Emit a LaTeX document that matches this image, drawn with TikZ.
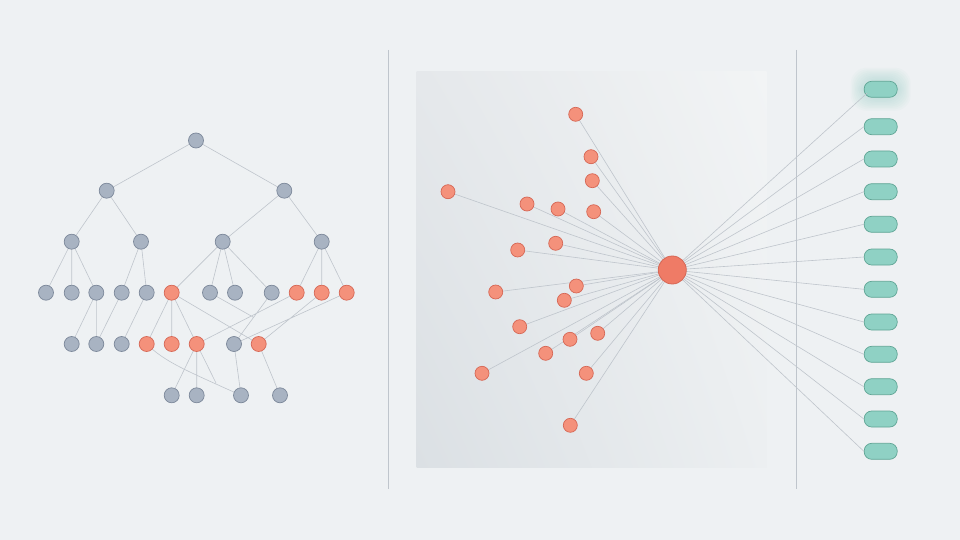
\documentclass[tikz,border=0pt]{standalone}
\usepackage{tikz}
\usetikzlibrary{calc,shadings}

\definecolor{fondo}{HTML}{EEF1F3}
\definecolor{gris}{HTML}{A8B3C2}
\definecolor{grisborde}{HTML}{7C889A}
\definecolor{naranja}{HTML}{F4917B}
\definecolor{naranjaborde}{HTML}{D66755}
\definecolor{centro}{HTML}{EF7B66}
\definecolor{verde}{HTML}{8FD1C4}
\definecolor{verdeborde}{HTML}{5FA595}
\definecolor{linea}{HTML}{BFC5CC}
\definecolor{panelA}{HTML}{DBE0E4}
\definecolor{panelB}{HTML}{E5E8EB}
\definecolor{panelC}{HTML}{ECEFF1}
\definecolor{panelD}{HTML}{F2F4F5}

\tikzset{
  gnodo/.style={circle, fill=gris, draw=grisborde, line width=.7pt, minimum size=15pt, inner sep=0pt},
  onodo/.style={circle, fill=naranja, draw=naranjaborde, line width=.7pt, minimum size=15pt, inner sep=0pt},
  fnodo/.style={circle, fill=naranja, draw=naranjaborde, line width=.7pt, minimum size=14pt, inner sep=0pt},
  pastilla/.style={rectangle, rounded corners=7.5pt, fill=verde, draw=verdeborde, line width=.7pt,
                   minimum width=33pt, minimum height=16pt, inner sep=0pt},
  arista/.style={draw=linea, line width=.6pt},
}

\begin{document}
\begin{tikzpicture}[x=1pt,y=-1pt]
\useasboundingbox (0,0) rectangle (960,540);

%%%%%%%%%%%%%%%%%%%%%%%%%%%%%%%%%%%%%%%%%%%%%%%%	FONDO
\fill[fondo] (0,0) rectangle (960,540);
\shade[lower left=panelA,		%%%%	Esquina oscura abajo
       upper left=panelB,
       lower right=panelC,
       upper right=panelD]		%%%%	Esquina clara arriba
 (416.7,71.7) rectangle (766.7,467.3);

%%%%%%%%%%%%%%%%%%%%%%%%%%%%%%%%%%%%%%%%%%%%%%%%	DIVISORES
\draw[linea, line width=.8pt] (388,50) -- (388,489);
\draw[linea, line width=.8pt] (796,50) -- (796,489);

%%%%%%%%%%%%%%%%%%%%%%%%%%%%%%%%%%%%%%%%%%%%%%%%	ARBOL (aristas primero, nodos encima)
\coordinate (r) at (196,140.5);
\coordinate (a) at (106.7,190.7);
\coordinate (b) at (284.3,190.7);
\coordinate (aa) at (71.7,241.7);
\coordinate (ab) at (141,241.7);
\coordinate (ba) at (222.7,241.7);
\coordinate (bb) at (321.7,241.7);
\coordinate (c1) at (46,292.7);
\coordinate (c2) at (71.7,292.7);
\coordinate (c3) at (96.3,292.7);
\coordinate (c4) at (121.7,292.7);
\coordinate (c5) at (146.7,292.7);
\coordinate (c6) at (171.7,292.7);
\coordinate (c7) at (210,292.7);
\coordinate (c8) at (235,292.7);
\coordinate (c9) at (271.7,292.7);
\coordinate (c10) at (296.7,292.7);
\coordinate (c11) at (321.7,292.7);
\coordinate (c12) at (346.7,292.7);
\coordinate (d1) at (71.7,344);
\coordinate (d2) at (96.3,344);
\coordinate (d3) at (121.7,344);
\coordinate (d4) at (146.7,344);
\coordinate (d5) at (171.7,344);
\coordinate (d6) at (196.7,344);
\coordinate (d7) at (234,344);
\coordinate (d8) at (258.7,344);
\coordinate (e1) at (171.7,395.3);
\coordinate (e2) at (196.7,395.3);
\coordinate (e3) at (241,395.3);
\coordinate (e4) at (280,395.3);
\coordinate (x1) at (253,317);		%%%%	Puntas sueltas
\coordinate (x2) at (216,383);

\draw[arista] (r) -- (a) (r) -- (b)
 (a) -- (aa) (a) -- (ab) (b) -- (ba) (b) -- (bb)
 (aa) -- (c1) (aa) -- (c2) (aa) -- (c3) (ab) -- (c4) (ab) -- (c5)
 (ba) -- (c6) (ba) -- (c7) (ba) -- (c8) (ba) -- (c9)
 (bb) -- (c10) (bb) -- (c11) (bb) -- (c12);
\draw[arista] (c3) -- (d1) (c3) -- (d2) (c4) -- (d2) (c5) -- (d3)
 (c6) -- (d4) (c6) -- (d5) (c6) -- (d6) (c6) -- (d8)
 (c7) -- (x1) (c9) -- (d7) (c10) -- (d6) (c11) -- (d8) (c12) -- (d7);
\draw[arista] (d4) .. controls (165,362) and (185,370) .. (e3)
 (d6) -- (e1) (d6) -- (e2) (d6) -- (x2) (d7) -- (e3) (d8) -- (e4);

\foreach \n in {r,a,b,aa,ab,ba,bb,c1,c2,c3,c4,c5,c7,c8,c9,d1,d2,d3,d7,e1,e2,e3,e4}
  \node[gnodo] (n\n) at (\n) {};
\foreach \n in {c6,c10,c11,c12,d4,d5,d6,d8}
  \node[onodo] (n\n) at (\n) {};

%%%%%%%%%%%%%%%%%%%%%%%%%%%%%%%%%%%%%%%%%%%%%%%%	ESTRELLA
\coordinate (h) at (672.3,270);		%%%%	Centro del abanico
\coordinate (f1) at (575.7,114.3);
\coordinate (f2) at (591,156.7);
\coordinate (f3) at (592.3,180.7);
\coordinate (f4) at (448,191.7);
\coordinate (f5) at (527,204);
\coordinate (f6) at (558,209);
\coordinate (f7) at (593.7,211.7);
\coordinate (f8) at (555.7,243.3);
\coordinate (f9) at (517.7,250);
\coordinate (f10) at (576.3,286);
\coordinate (f11) at (495.7,292);
\coordinate (f12) at (564.3,300.3);
\coordinate (f13) at (519.7,326.7);
\coordinate (f14) at (597.7,333.3);
\coordinate (f15) at (570,339.3);
\coordinate (f16) at (545.7,353.3);
\coordinate (f17) at (482,373.3);
\coordinate (f18) at (586.3,373.3);
\coordinate (f19) at (570.3,425.3);

%%%%%%%%%%%%%%%%%%%%%%%%%%%%%%%%%%%%%%%%%%%%%%%%	PASTILLAS
\foreach \k in {1,...,9}					%%%%	Resplandor
  \fill[verde, opacity=.05, rounded corners=16pt]
   ($(880.7,89.3)+(-16.5-1.5*\k,-8-1.5*\k)$) rectangle ($(880.7,89.3)+(16.5+1.5*\k,8+1.5*\k)$);
\node[pastilla] (p1) at (880.7,89.3) {};
\node[pastilla] (p2) at (880.7,126.7) {};
\node[pastilla] (p3) at (880.7,159) {};
\node[pastilla] (p4) at (880.7,191.7) {};
\node[pastilla] (p5) at (880.7,224.3) {};
\node[pastilla] (p6) at (880.7,257) {};
\node[pastilla] (p7) at (880.7,289.3) {};
\node[pastilla] (p8) at (880.7,322) {};
\node[pastilla] (p9) at (880.7,354.3) {};
\node[pastilla] (p10) at (880.7,386.7) {};
\node[pastilla] (p11) at (880.7,419) {};
\node[pastilla] (p12) at (880.7,451.3) {};

\foreach \i in {1,...,19}
  \draw[arista] (h) -- (f\i);
\draw[arista] (h) -- ($(p1.west)+(3,4)$);
\foreach \i in {2,...,12}
  \draw[arista] (h) -- (p\i.west);

\foreach \i in {1,...,19}
  \node[fnodo] (nf\i) at (f\i) {};
\node[circle, fill=centro, draw=naranjaborde, line width=.8pt, minimum size=28pt, inner sep=0pt]
 (hub) at (h) {};

\end{tikzpicture}
\end{document}
